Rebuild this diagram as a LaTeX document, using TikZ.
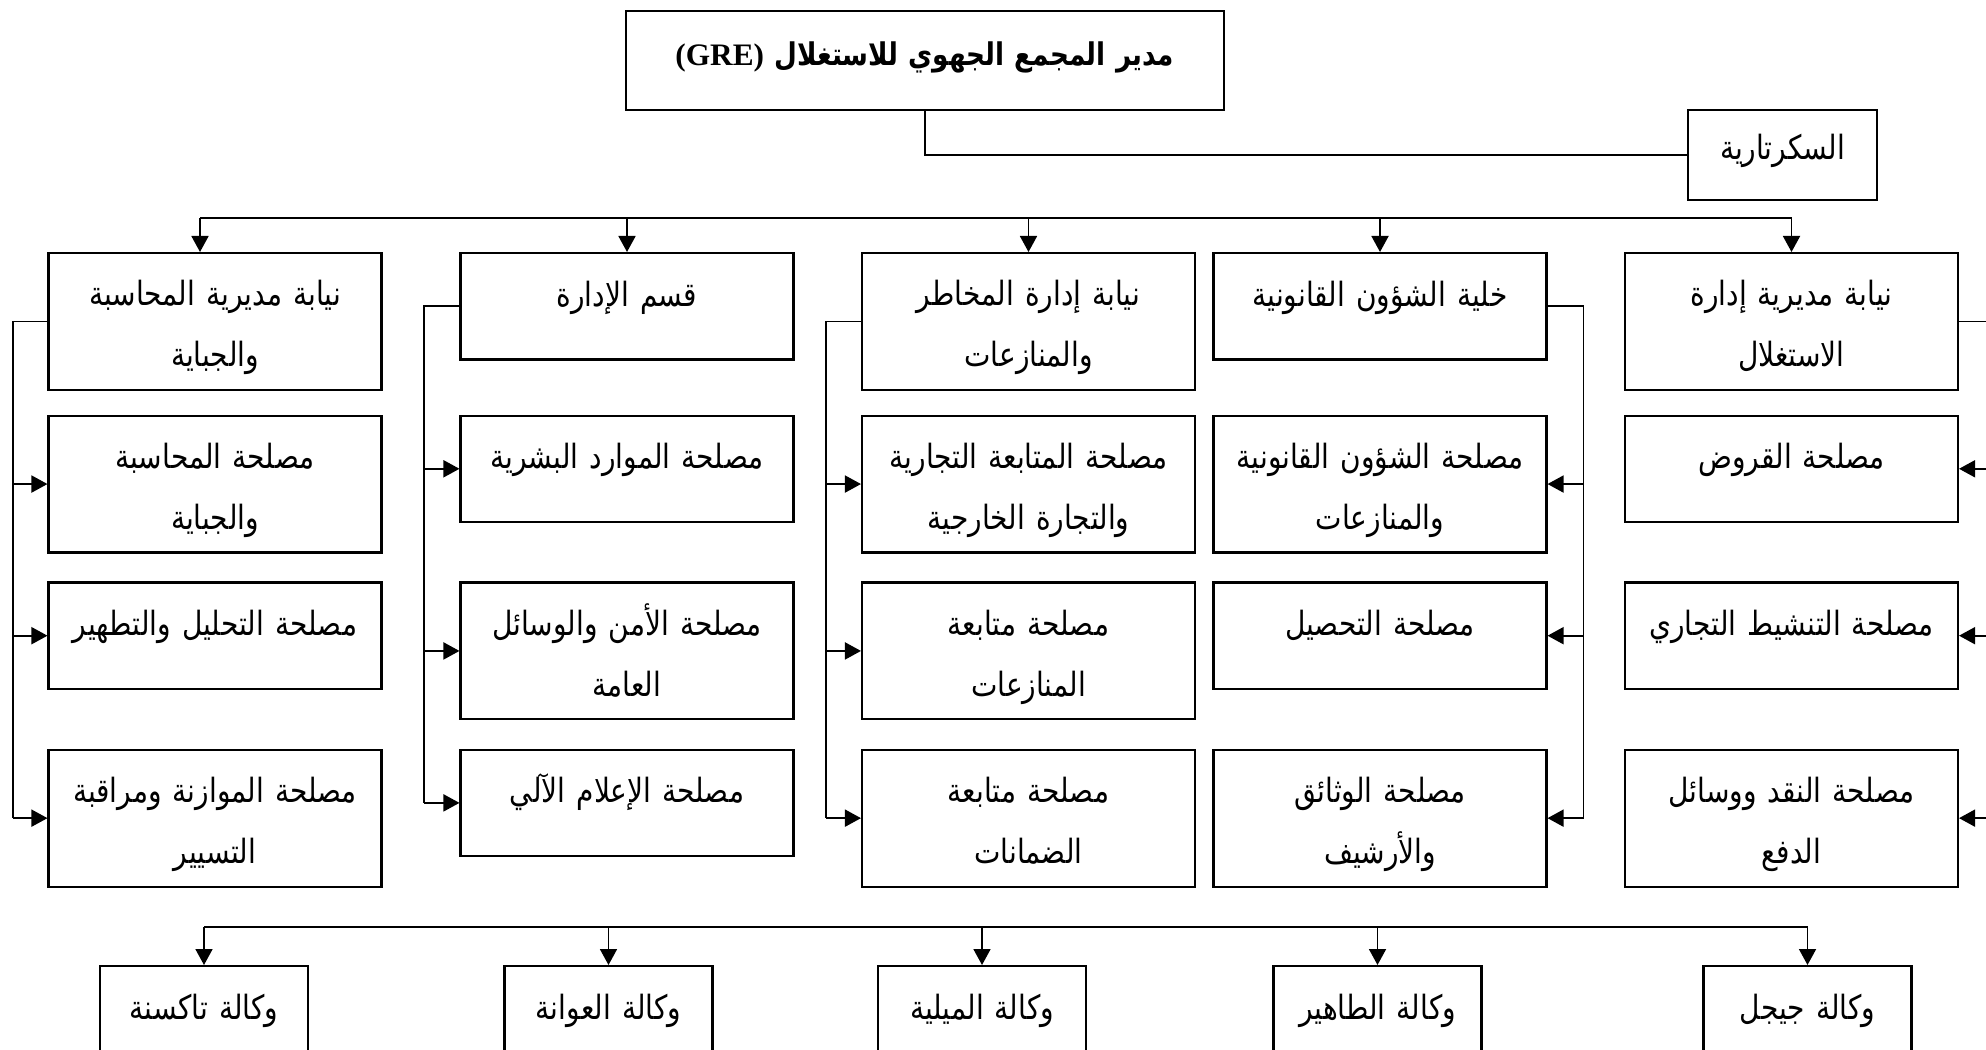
\documentclass[tikz,border=0pt]{standalone}
\usepackage{fontspec}
\setmainfont{Liberation Serif}
\newfontfamily\arabicfont[Script=Arabic, FakeStretch=0.84]{DejaVu Sans}
\TeXXeTstate=1
\usetikzlibrary{arrows.meta, positioning}
\newcommand{\rl}[1]{\beginR #1\endR}

\begin{document}
\begin{tikzpicture}[
  x=0.02cm, y=-0.02cm,
  unit/.style={rectangle, draw, line width=1.2pt, anchor=north, align=center,
    minimum width=6.66cm, minimum height=2.13cm, inner sep=2pt,
    text width=6.4cm, text height=0.5cm, text depth=0.5cm,
    font=\arabicfont\fontsize{19}{34.7}\selectfont},
  tall/.style={unit, minimum height=2.74cm, text depth=1.132cm},
  agency/.style={unit, minimum width=4.16cm, text width=3.9cm},
  head/.style={unit, minimum width=11.96cm, minimum height=1.98cm, text width=11.5cm,
    text height=0.6cm, text depth=0.4cm,
    font=\arabicfont\bfseries\fontsize{17.8}{24}\selectfont},
  line/.style={line width=1pt},
  arrow/.style={line, -{Triangle[length=0.32cm, width=0.34cm]}}
]
  \useasboundingbox (0,0) rectangle (1986,1050);
  \clip (0,0) rectangle (1986,1050);

  % direction
  \node[head] (gm) at (924.7,10) {{\rmfamily (GRE)} \rl{مدير المجمع الجهوي للاستغلال}};
  \node[unit, minimum width=3.78cm, minimum height=1.8cm, text width=3.5cm,
    text height=0.6cm, text depth=0.41cm] (sec) at (1782.5,109) {\rl{السكرتارية}};

  % first row
  \node[tall] (acc) at (215,252) {\rl{نيابة مديرية المحاسبة}\\\rl{والجباية}};
  \node[unit] (adm) at (627,252) {\rl{قسم الإدارة}};
  \node[tall] (risk) at (1028.5,252) {\rl{نيابة إدارة المخاطر}\\\rl{والمنازعات}};
  \node[unit] (leg) at (1380,252) {\rl{خلية الشؤون القانونية}};
  \node[tall] (ops) at (1791.5,252) {\rl{نيابة مديرية إدارة}\\\rl{الاستغلال}};

  % services
  \node[tall] (acc1) at (215,414.5) {\rl{مصلحة المحاسبة}\\\rl{والجباية}};
  \node[unit] (adm1) at (627,414.5) {\rl{مصلحة الموارد البشرية}};
  \node[tall] (risk1) at (1028.5,414.5) {\rl{مصلحة المتابعة التجارية}\\\rl{والتجارة الخارجية}};
  \node[tall] (leg1) at (1380,414.5) {\rl{مصلحة الشؤون القانونية}\\\rl{والمنازعات}};
  \node[unit] (ops1) at (1791.5,414.5) {\rl{مصلحة القروض}};

  \node[unit] (acc2) at (215,581.4) {\rl{مصلحة التحليل والتطهير}};
  \node[tall] (adm2) at (627,581.4) {\rl{مصلحة الأمن والوسائل}\\\rl{العامة}};
  \node[tall] (risk2) at (1028.5,581.4) {\rl{مصلحة متابعة}\\\rl{المنازعات}};
  \node[unit] (leg2) at (1380,581.4) {\rl{مصلحة التحصيل}};
  \node[unit] (ops2) at (1791.5,581.4) {\rl{مصلحة التنشيط التجاري}};

  \node[tall] (acc3) at (215,748.6) {\rl{مصلحة الموازنة ومراقبة}\\\rl{التسيير}};
  \node[unit] (adm3) at (627,748.6) {\rl{مصلحة الإعلام الآلي}};
  \node[tall] (risk3) at (1028.5,748.6) {\rl{مصلحة متابعة}\\\rl{الضمانات}};
  \node[tall] (leg3) at (1380,748.6) {\rl{مصلحة الوثائق}\\\rl{والأرشيف}};
  \node[tall] (ops3) at (1791.5,748.6) {\rl{مصلحة النقد ووسائل}\\\rl{الدفع}};

  % agencies
  \node[agency] (ag1) at (204,965) {\rl{وكالة تاكسنة}};
  \node[agency] (ag2) at (608.5,965) {\rl{وكالة العوانة}};
  \node[agency] (ag3) at (982,965) {\rl{وكالة الميلية}};
  \node[agency] (ag4) at (1377.5,965) {\rl{وكالة الطاهير}};
  \node[agency] (ag5) at (1807.5,965) {\rl{وكالة جيجل}};

  % links
  \draw[line] (gm.south) |- (sec.west);

  \coordinate (topbus) at (200,218);
  \draw[line] (topbus) -- (topbus -| ops.north);
  \draw[arrow] (topbus) -- (topbus |- acc.north);
  \draw[arrow] (topbus -| adm.north) -- (adm.north);
  \draw[arrow] (topbus -| risk.north) -- (risk.north);
  \draw[arrow] (topbus -| leg.north) -- (leg.north);
  \draw[arrow] (topbus -| ops.north) -- (ops.north);

  \coordinate (accbus) at (12.7,0);
  \draw[line] (acc.west) -| (accbus |- acc3.west);
  \draw[arrow] (accbus |- acc1.west) -- (acc1.west);
  \draw[arrow] (accbus |- acc2.west) -- (acc2.west);
  \draw[arrow] (accbus |- acc3.west) -- (acc3.west);

  \coordinate (admbus) at (424,0);
  \draw[line] (adm.west) -| (admbus |- adm3.west);
  \draw[arrow] (admbus |- adm1.west) -- (adm1.west);
  \draw[arrow] (admbus |- adm2.west) -- (adm2.west);
  \draw[arrow] (admbus |- adm3.west) -- (adm3.west);

  \coordinate (riskbus) at (826,0);
  \draw[line] (risk.west) -| (riskbus |- risk3.west);
  \draw[arrow] (riskbus |- risk1.west) -- (risk1.west);
  \draw[arrow] (riskbus |- risk2.west) -- (risk2.west);
  \draw[arrow] (riskbus |- risk3.west) -- (risk3.west);

  \coordinate (legbus) at (1583.5,0);
  \draw[line] (leg.east) -| (legbus |- leg3.east);
  \draw[arrow] (legbus |- leg1.east) -- (leg1.east);
  \draw[arrow] (legbus |- leg2.east) -- (leg2.east);
  \draw[arrow] (legbus |- leg3.east) -- (leg3.east);

  \coordinate (opsbus) at (1994.5,0);
  \draw[line] (ops.east) -| (opsbus |- ops3.east);
  \draw[arrow] (opsbus |- ops1.east) -- (ops1.east);
  \draw[arrow] (opsbus |- ops2.east) -- (ops2.east);
  \draw[arrow] (opsbus |- ops3.east) -- (ops3.east);

  \coordinate (agbus) at (204,927);
  \draw[line] (agbus) -- (agbus -| ag5.north);
  \draw[arrow] (agbus) -- (ag1.north);
  \draw[arrow] (agbus -| ag2.north) -- (ag2.north);
  \draw[arrow] (agbus -| ag3.north) -- (ag3.north);
  \draw[arrow] (agbus -| ag4.north) -- (ag4.north);
  \draw[arrow] (agbus -| ag5.north) -- (ag5.north);
\end{tikzpicture}
\end{document}
